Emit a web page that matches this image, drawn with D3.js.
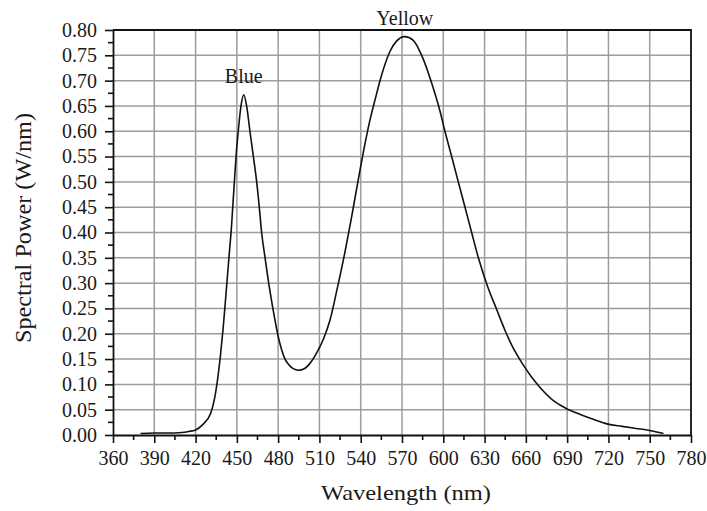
<!DOCTYPE html>
<html>
<head>
<meta charset="utf-8">
<script src="https://cdn.jsdelivr.net/npm/d3@7"></script>
<style>
  html, body { margin: 0; padding: 0; background: #fff; }
  svg text { font-family: "Liberation Serif", "Times New Roman", serif; fill: #1a1a1a; }
</style>
</head>
<body>
<svg id="chart" width="707" height="511"></svg>
<script>
// Spectral power distribution of a white (blue + yellow phosphor) LED
const wavelength = [380, 390, 400, 410, 415, 420, 425, 431, 434, 436, 438, 440, 442, 443.5, 445, 445.8, 447, 448.2, 449.4, 451, 453, 455, 457.1, 459.5, 462, 464.4, 466.3, 468, 470.5, 474, 477.7, 480, 482.6, 485, 488, 491, 494.7, 499, 503, 508, 513, 517.7, 523, 528.6, 533, 538.2, 542, 546.7, 550.4, 555.2, 561.3, 566, 572, 578, 584.3, 591.6, 597.6, 601.2, 606.1, 610.9, 615.8, 620.6, 625.5, 632, 638.8, 644.8, 650, 655, 659.4, 664, 670, 680, 689, 700, 710, 719, 730, 740, 750, 760];
const power = [0.003, 0.004, 0.004, 0.005, 0.007, 0.010, 0.020, 0.043, 0.075, 0.110, 0.155, 0.210, 0.275, 0.325, 0.375, 0.400, 0.450, 0.500, 0.550, 0.600, 0.650, 0.672, 0.650, 0.600, 0.550, 0.500, 0.450, 0.400, 0.350, 0.285, 0.227, 0.195, 0.168, 0.150, 0.138, 0.131, 0.128, 0.131, 0.141, 0.162, 0.190, 0.227, 0.290, 0.362, 0.425, 0.504, 0.560, 0.622, 0.662, 0.711, 0.758, 0.778, 0.787, 0.780, 0.750, 0.695, 0.640, 0.600, 0.550, 0.500, 0.450, 0.400, 0.350, 0.295, 0.248, 0.207, 0.176, 0.152, 0.133, 0.115, 0.095, 0.068, 0.053, 0.040, 0.030, 0.022, 0.017, 0.013, 0.009, 0.003];
const xTicks = [360, 390, 420, 450, 480, 510, 540, 570, 600, 630, 660, 690, 720, 750, 780];
const yTicks = [0.00, 0.05, 0.10, 0.15, 0.20, 0.25, 0.30, 0.35, 0.40, 0.45, 0.50, 0.55, 0.60, 0.65, 0.70, 0.75, 0.80];
const peakLabels = [
  { name: "Blue", wl: 455, value: 0.672 },
  { name: "Yellow", wl: 572, value: 0.787 }
];

const svg = d3.select("#chart");
const m = { left: 113, right: 691, top: 30, bottom: 435 };
const serif = '"Liberation Serif", "Times New Roman", serif';

const x = d3.scaleLinear().domain([360, 780]).range([m.left, m.right]);
const y = d3.scaleLinear().domain([0, 0.8]).range([m.bottom, m.top]);

// grid
const grid = svg.append("g").attr("stroke", "#9c9c9c").attr("stroke-width", 1.5);
grid.selectAll("line.v").data(xTicks.slice(1, -1)).join("line")
  .attr("x1", d => x(d)).attr("x2", d => x(d))
  .attr("y1", m.top).attr("y2", m.bottom);
grid.selectAll("line.h").data(yTicks.slice(1, -1)).join("line")
  .attr("y1", d => y(d)).attr("y2", d => y(d))
  .attr("x1", m.left).attr("x2", m.right);

// minor ticks halfway between labelled ones
const xMinor = d3.range(375, 780, 30);
const yMinor = d3.range(0.025, 0.8, 0.05);

const xAxis = svg.append("g").attr("transform", `translate(0,${m.bottom})`)
  .call(d3.axisBottom(x).tickValues(xTicks).tickSize(8).tickPadding(8).tickSizeOuter(0));
xAxis.append("g").selectAll("line").data(xMinor).join("line")
  .attr("x1", d => x(d)).attr("x2", d => x(d)).attr("y1", 0).attr("y2", 5)
  .attr("stroke", "#111").attr("stroke-width", 1.6);

const yAxis = svg.append("g").attr("transform", `translate(${m.left},0)`)
  .call(d3.axisLeft(y).tickValues(yTicks).tickFormat(d3.format(".2f")).tickSize(8).tickPadding(8).tickSizeOuter(0));
yAxis.append("g").selectAll("line").data(yMinor).join("line")
  .attr("y1", d => y(d)).attr("y2", d => y(d)).attr("x1", 0).attr("x2", -5)
  .attr("stroke", "#111").attr("stroke-width", 1.6);

[xAxis, yAxis].forEach(g => {
  g.attr("font-family", serif);
  g.selectAll(".domain").attr("stroke", "#111").attr("stroke-width", 1.8);
  g.selectAll(".tick line").attr("stroke", "#111").attr("stroke-width", 1.6);
  g.selectAll(".tick text")
    .style("font-family", serif)
    .style("font-size", "20px")
    .attr("fill", "#1a1a1a");
});

// top and right frame
svg.append("path")
  .attr("d", `M${m.left},${m.top}H${m.right}V${m.bottom}`)
  .attr("fill", "none").attr("stroke", "#111").attr("stroke-width", 1.8);

// spectrum curve
const line = d3.line()
  .x((d, i) => x(wavelength[i]))
  .y((d, i) => y(power[i]))
  .curve(d3.curveMonotoneX);
svg.append("path")
  .datum(power)
  .attr("d", line)
  .attr("fill", "none").attr("stroke", "#111").attr("stroke-width", 1.6);

// peak labels
svg.selectAll("text.peak").data(peakLabels).join("text")
  .attr("class", "peak")
  .attr("x", d => x(d.wl))
  .attr("y", d => y(d.value) - 12)
  .attr("text-anchor", "middle")
  .style("font-size", "20px")
  .text(d => d.name);

// axis titles
svg.append("text")
  .attr("x", 406).attr("y", 500)
  .attr("text-anchor", "middle")
  .attr("textLength", 170).attr("lengthAdjust", "spacingAndGlyphs")
  .style("font-size", "21px")
  .text("Wavelength (nm)");

svg.append("text")
  .attr("transform", "translate(31,228) rotate(-90)")
  .attr("text-anchor", "middle")
  .attr("textLength", 230).attr("lengthAdjust", "spacingAndGlyphs")
  .style("font-size", "23px")
  .text("Spectral Power (W/nm)");
</script>
</body>
</html>
